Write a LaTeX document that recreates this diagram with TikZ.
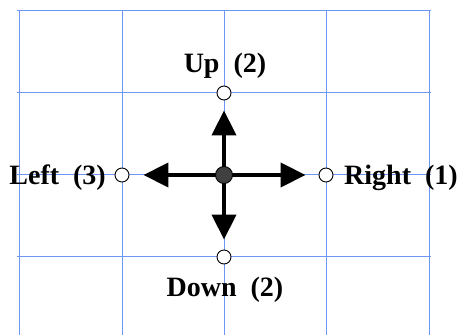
\documentclass[tikz,border=0pt]{standalone}
\usepackage{fontspec}
\setmainfont{Liberation Serif}
\usetikzlibrary{arrows.meta}
\pgfdeclarelayer{gridlayer}
\pgfdeclarelayer{bg}
\pgfsetlayers{gridlayer,bg,main}
\definecolor{gridblue}{RGB}{110,150,245}
\definecolor{dotgray}{RGB}{64,64,64}
\tikzset{
  gridline/.style={draw=gridblue, line width=1pt},
  opendot/.style={circle, draw=black, fill=white, line width=0.9pt, minimum size=14pt, inner sep=0pt},
  centerdot/.style={circle, draw=black, fill=dotgray, line width=0.9pt, minimum size=17pt, inner sep=0pt},
  movearrow/.style={line width=4pt, -{Triangle[length=25pt,width=24pt]}},
  lbl/.style={inner sep=0pt, font=\fontsize{28}{30}\selectfont\bfseries}
}
\begin{document}
\begin{tikzpicture}[x=1pt,y=1pt]
\useasboundingbox (0,0) rectangle (459,335);
% grid
\begin{pgfonlayer}{gridlayer}
\foreach \x in {19,122,224,326,429} \draw[gridline] (\x,324) -- (\x,0);
\foreach \y in {324,242,160,78} \draw[gridline] (17,\y) -- (431,\y);
\end{pgfonlayer}
% nodes
\node[centerdot] (c) at (224,160) {};
\node[opendot] (u) at (224,242) {};
\node[opendot] (l) at (122,160) {};
\node[opendot] (r) at (326,160) {};
\node[opendot] (d) at (224,78) {};
% arrows
\begin{pgfonlayer}{bg}
\draw[movearrow, shorten >=10pt] (c.center) -- (u);
\draw[movearrow, shorten >=10pt] (c.center) -- (d);
\draw[movearrow, shorten >=14pt] (c.center) -- (l);
\draw[movearrow, shorten >=13pt] (c.center) -- (r);
\end{pgfonlayer}
% labels
\node[lbl, anchor=base] (tu) at (225,262) {Up\ \ (2)};
\node[lbl, anchor=base] (td) at (225,38) {Down\ \ (2)};
\node[lbl, anchor=base east] (tl) at (106,150) {Left\ \ (3)};
\node[lbl, anchor=base west] (tr) at (344,150) {Right\ \ (1)};
\end{tikzpicture}
\end{document}
